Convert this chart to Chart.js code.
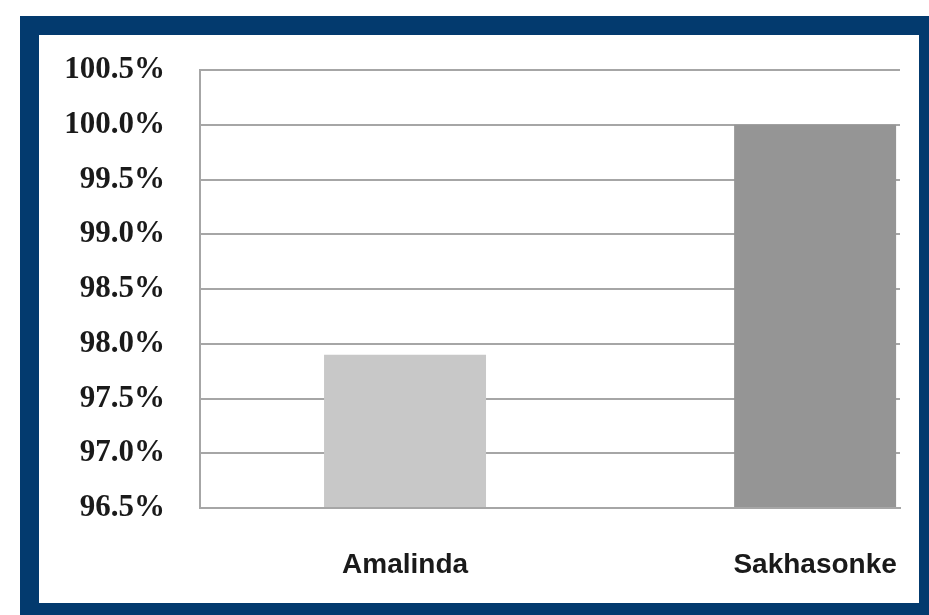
<!DOCTYPE html>
<html>
<head>
<meta charset="utf-8">
<script src="https://cdn.jsdelivr.net/npm/chart.js@4"></script>
<style>
    html, body { margin: 0; padding: 0; background: #fff; }
    #frame {
        position: absolute;
        left: 20px; top: 16px;
        width: 880px; height: 568px;
        border: 19px solid #033a6e;
        border-right-width: 10px;
        border-bottom-width: 12px;
        background: #fff;
    }
    #wrap { position: relative; width: 880px; height: 568px; }
</style>
</head>
<body>
<div id="frame"><div id="wrap"><canvas id="chart"></canvas></div></div>
<script>
const categories = ['Amalinda', 'Sakhasonke'];
const values = [97.9, 100.0];
const barColors = ['#c8c8c8', '#959595'];
const yMin = 96.5;
const yMax = 100.5;
const yStep = 0.5;

// keep the bars where the original had them (the x range is a bit lopsided)
const xMin = -0.5;
const xMax = 1.207;

const ctx = document.querySelector('#chart').getContext('2d');

new Chart(ctx, {
    type: 'bar',
    data: {
        datasets: [{
            data: values.map((v, i) => ({ x: i, y: v })),
            backgroundColor: barColors,
            borderWidth: 0,
            base: yMin,
            categoryPercentage: 1,
            barPercentage: 0.395
        }]
    },
    options: {
        responsive: true,
        maintainAspectRatio: false,
        animation: false,
        layout: { padding: { left: 0, top: 35, right: 19, bottom: 0 } },
        plugins: {
            legend: { display: false },
            tooltip: { enabled: false }
        },
        scales: {
            x: {
                type: 'linear',
                offset: false,
                min: xMin,
                max: xMax,
                afterBuildTicks: scale => {
                    scale.ticks = categories.map((c, i) => ({ value: i }));
                },
                afterFit: scale => {
                    scale.height = 95;
                    scale.paddingLeft = 0;
                    scale.paddingRight = 0;
                },
                grid: { display: false, drawTicks: false },
                border: { color: '#a6a6a6', width: 2 },
                ticks: {
                    padding: 40,
                    color: '#1a1a1a',
                    font: { family: 'Liberation Sans', size: 28, weight: 'bold' },
                    callback: v => categories[v]
                }
            },
            y: {
                min: yMin,
                max: yMax,
                afterFit: scale => {
                    scale.width = 161;
                    scale.paddingTop = 0;
                    scale.paddingBottom = 0;
                },
                grid: { color: '#a6a6a6', lineWidth: 2, drawTicks: false },
                border: { color: '#a6a6a6', width: 2 },
                ticks: {
                    stepSize: yStep,
                    padding: 35,
                    color: '#1a1a1a',
                    font: { family: 'Liberation Serif', size: 31, weight: 'bold' },
                    callback: v => v.toFixed(1) + '%'
                }
            }
        }
    }
});
</script>
</body>
</html>
